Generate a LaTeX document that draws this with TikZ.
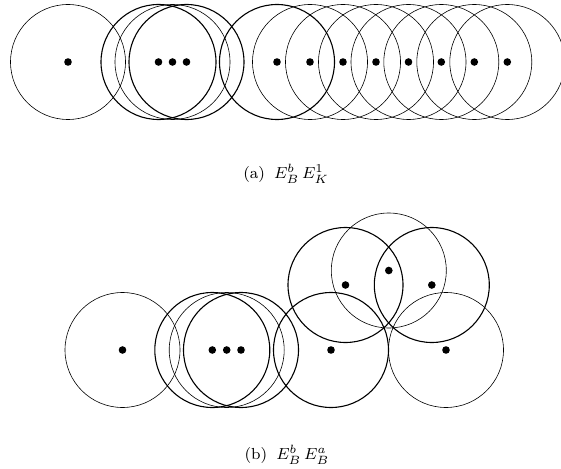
\documentclass[tikz,border=0pt]{standalone}
\usepackage{graphicx}
\newcommand{\capline}[2]{\scalebox{2}{\footnotesize(#1)\hspace{4.5pt}$#2$}}
\begin{document}
\begin{tikzpicture}[x=1pt,y=-1pt,
  disc/.style={circle,draw,minimum size=115pt,inner sep=0pt,line width=0.6pt},
  bolddisc/.style={disc,line width=1.1pt},
  dot/.style={circle,fill,minimum size=7.6pt,inner sep=0pt},
  captext/.style={inner sep=0pt}]
\useasboundingbox (0,0) rectangle (561,468);
% ---- (a) top row ----
\foreach \n/\x/\s in {a1/68/disc,a2/158.5/bolddisc,a3/172.5/disc,a4/186.5/bolddisc,
  a5/277/bolddisc,a6/310/disc,a7/343/disc,a8/376/disc,a9/408.5/disc,a10/441.3/disc,a11/474.3/disc,a12/507.3/disc}{
  \node[\s] (c\n) at (\x,62) {};
  \node[dot] (d\n) at (\x,62) {};
}
\node[captext] (capa) at (286,174) {\capline{a}{E^b_B\,E^1_K}};
% ---- (b) bottom ----
\foreach \n/\x/\y/\s in {b1/122.5/350/disc,b2/212.3/350/bolddisc,b3/226.7/350/disc,b4/241/350/bolddisc,
  b5/331/350/bolddisc,b6/446/350/disc,b7/345.5/285/bolddisc,b8/431.8/285/bolddisc,b9/388.8/270.5/disc}{
  \node[\s] (c\n) at (\x,\y) {};
  \node[dot] (d\n) at (\x,\y) {};
}
\node[captext] (capb) at (287,455) {\capline{b}{E^b_B\,E^a_B}};
\end{tikzpicture}
\end{document}
